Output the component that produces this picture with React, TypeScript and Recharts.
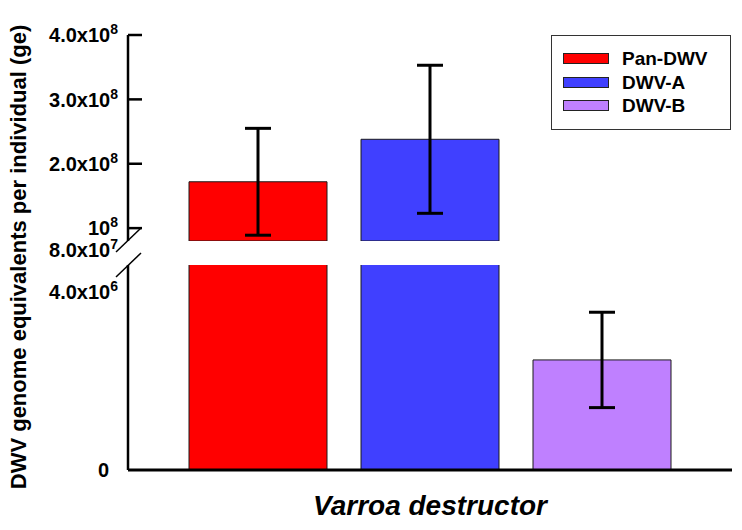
import React from "react";
import { BarChart, Bar, XAxis, YAxis, ErrorBar, Legend } from "recharts";

const categories = ["Varroa destructor"];
const seriesNames = ["Pan-DWV", "DWV-A", "DWV-B"];
const seriesMeans = [1.72e8, 2.38e8, 2.47e6];
const seriesErrors = [0.83e8, 1.15e8, 1.07e6];
const seriesColors = ["#ff0000", "#4040ff", "#bf80ff"];

// broken y axis: two segments
const upperDomain = [8e7, 4e8];
const lowerDomain = [0, 4.6e6];
const upperTicks = [8e7, 1e8, 2e8, 3e8, 4e8];
const upperTickLabels = [
	["8.0x10", "7"],
	["10", "8"],
	["2.0x10", "8"],
	["3.0x10", "8"],
	["4.0x10", "8"],
];
const lowerTicks = [0, 4e6];
const lowerTickLabels = [
	["0", ""],
	["4.0x10", "6"],
];

const FONT = "'Liberation Sans', Arial, sans-serif";
const AXIS_X = 128;

const upperData = categories.map((name) => {
	const row: Record<string, any> = { name };
	seriesMeans.forEach((v, i) => {
		row["s" + i] = v >= upperDomain[0] ? v : null;
		row["e" + i] = seriesErrors[i];
	});
	return row;
});

const lowerData = categories.map((name) => {
	const row: Record<string, any> = { name };
	seriesMeans.forEach((v, i) => {
		row["s" + i] = v;
		row["e" + i] = seriesErrors[i];
	});
	return row;
});

function makeTick(ticks: number[], labels: string[][], withLines: boolean) {
	return (props: any) => {
		const { x, y, payload } = props;
		const idx = ticks.indexOf(payload.value);
		const [base, exp] = labels[idx] ?? [String(payload.value), ""];
		const isBreak = withLines && payload.value === ticks[0];
		const ty = y + (isBreak ? 9 : 0);
		const tx = exp ? x : x - 9;
		return (
			<g>
				{withLines && !isBreak && (
					<line x1={AXIS_X} x2={AXIS_X + 14} y1={y} y2={y} stroke="#000" strokeWidth={2.5} />
				)}
				<text
					x={tx}
					y={ty}
					dy="0.36em"
					textAnchor="end"
					fontFamily={FONT}
					fontWeight="bold"
					fontSize={20}
					fill="#000"
				>
					{base}
					{exp && (
						<tspan dy={-8} fontSize={14}>
							{exp}
						</tspan>
					)}
				</text>
			</g>
		);
	};
}

function LegendBox() {
	return (
		<div
			style={{
				position: "relative",
				width: 180,
				height: 95,
				boxSizing: "border-box",
				border: "1.5px solid #333",
				background: "#fff",
				fontFamily: FONT,
			}}
		>
			{seriesNames.map((name, i) => (
				<div key={name} style={{ position: "absolute", left: 11, top: 17 + i * 23.5, height: 11 }}>
					<div
						style={{
							position: "absolute",
							left: 0,
							top: 0,
							width: 46,
							height: 11,
							boxSizing: "border-box",
							background: seriesColors[i],
							border: "1px solid #222",
						}}
					/>
					<div
						style={{
							position: "absolute",
							left: 59,
							top: -5,
							lineHeight: "21px",
							fontSize: 19,
							fontWeight: "bold",
							whiteSpace: "nowrap",
							color: "#000",
						}}
					>
						{name}
					</div>
				</div>
			))}
		</div>
	);
}

export default function App() {
	return (
		<div style={{ position: "absolute", left: 0, top: 0, width: 742, height: 530, background: "#fff" }}>
			<div style={{ position: "absolute", left: 0, top: 0 }}>
				<BarChart
					width={742}
					height={265}
					data={upperData}
					margin={{ top: 35, right: 10, bottom: 24, left: 0 }}
					barCategoryGap={61}
					barGap={34}
				>
					<XAxis dataKey="name" hide />
					<YAxis
						width={128}
						domain={upperDomain}
						ticks={upperTicks}
						allowDataOverflow
						interval={0}
						tickSize={0}
						tickMargin={10}
						tickLine={false}
						axisLine={{ stroke: "#000", strokeWidth: 2.5 }}
						tick={makeTick(upperTicks, upperTickLabels, true)}
					/>
					<Legend
						layout="horizontal"
						align="center"
						verticalAlign="middle"
						wrapperStyle={{ position: "absolute", left: 551, top: 35, width: 180, height: 95 }}
						content={() => <LegendBox />}
					/>
					{seriesNames.map((name, i) => (
						<Bar
							key={name}
							name={name}
							dataKey={"s" + i}
							fill={seriesColors[i]}
							stroke="#1a1a1a"
							strokeWidth={1}
							isAnimationActive={false}
						>
							{i < 2 && (
								<ErrorBar dataKey={"e" + i} direction="y" width={13} stroke="#000" strokeWidth={3} />
							)}
						</Bar>
					))}
				</BarChart>
			</div>
			<div style={{ position: "absolute", left: 0, top: 250 }}>
				<BarChart
					width={742}
					height={280}
					data={lowerData}
					margin={{ top: 15, right: 10, bottom: 0, left: 0 }}
					barCategoryGap={61}
					barGap={34}
				>
					<XAxis
						dataKey="name"
						height={60}
						tick={false}
						tickLine={false}
						axisLine={{ stroke: "#000", strokeWidth: 3 }}
						label={{
							value: "Varroa destructor",
							position: "insideBottom",
							offset: 15,
							style: {
								fontFamily: FONT,
								fontWeight: "bold",
								fontStyle: "italic",
								fontSize: 28,
								fill: "#000",
							},
						}}
					/>
					<YAxis
						width={128}
						domain={lowerDomain}
						ticks={lowerTicks}
						allowDataOverflow
						interval={0}
						tickSize={0}
						tickMargin={10}
						tickLine={false}
						axisLine={{ stroke: "#000", strokeWidth: 2.5 }}
						tick={makeTick(lowerTicks, lowerTickLabels, false)}
					/>
					{seriesNames.map((name, i) => (
						<Bar
							key={name}
							name={name}
							dataKey={"s" + i}
							fill={seriesColors[i]}
							stroke="#1a1a1a"
							strokeWidth={1}
							isAnimationActive={false}
						>
							{i === 2 && (
								<ErrorBar dataKey={"e" + i} direction="y" width={13} stroke="#000" strokeWidth={3} />
							)}
						</Bar>
					))}
				</BarChart>
			</div>
			<svg
				width={742}
				height={530}
				style={{ position: "absolute", left: 0, top: 0, pointerEvents: "none" }}
			>
				<line x1={116} y1={252} x2={141} y2={228} stroke="#000" strokeWidth={1.5} />
				<line x1={116} y1={277} x2={141} y2={253} stroke="#000" strokeWidth={1.5} />
				<text
					x={18}
					y={257}
					transform="rotate(-90 18 257)"
					textAnchor="middle"
					dominantBaseline="central"
					fontFamily={FONT}
					fontWeight="bold"
					fontSize={22}
					fill="#000"
				>
					DWV genome equivalents per individual (ge)
				</text>
			</svg>
		</div>
	);
}
